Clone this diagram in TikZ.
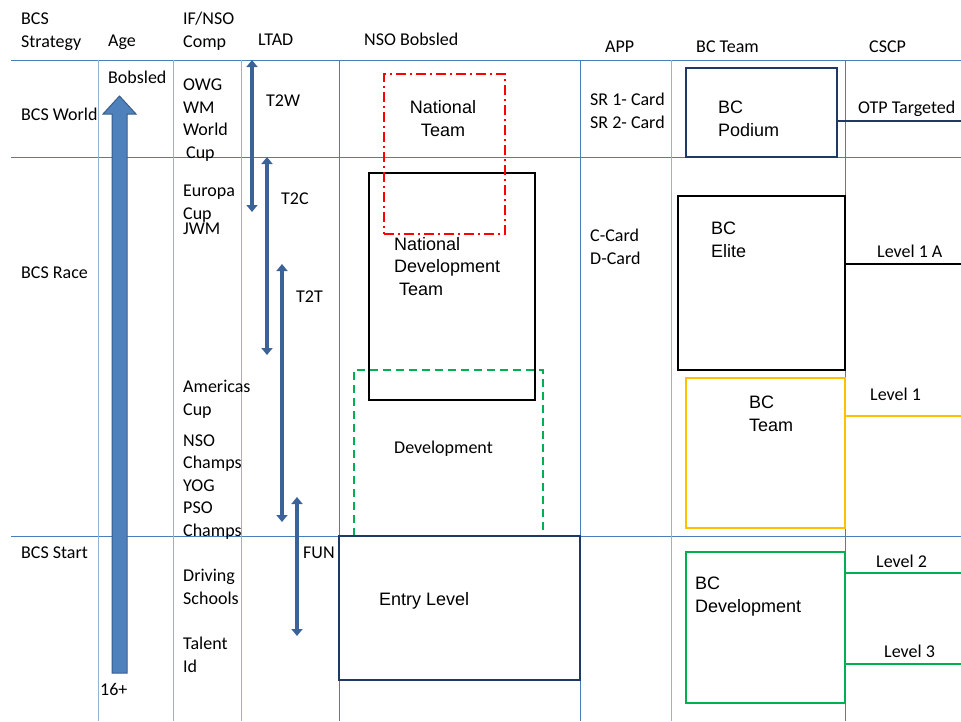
\documentclass[tikz,border=0pt]{standalone}
\usepackage{fontspec}
\setmainfont{Carlito}
\newfontfamily\arialfont{Liberation Sans}
\usetikzlibrary{arrows.meta}

\definecolor{gridblue}{HTML}{4A7EBB}
\definecolor{gridpale}{HTML}{95B3D7}
\definecolor{ageblue}{HTML}{4F81BD}
\definecolor{agerim}{HTML}{385D8A}
\definecolor{ltadblue}{HTML}{3C6398}
\definecolor{navy}{HTML}{1F3864}
\definecolor{natred}{HTML}{FF0000}
\definecolor{devgreen}{HTML}{00B050}
\definecolor{teamgold}{HTML}{FFC000}

\begin{document}
\begin{tikzpicture}[x=1pt, y=-1pt,
    txt/.style={font=\fontsize{18}{22.5}\selectfont, anchor=base west, inner sep=0pt, align=left},
    boxtxt/.style={txt, font=\arialfont\fontsize{18}{22.5}\selectfont},
    grid/.style={gridblue, line width=0.8pt},
    pale/.style={gridpale, line width=0.8pt},
    ltad/.style={ltadblue, line width=4.5pt,
        {Triangle[width=11pt,length=7pt]}-{Triangle[width=11pt,length=7pt]}},
    lvlbox/.style={draw, line width=2pt, inner sep=0pt},
    feed/.style={line width=2pt}
]
\useasboundingbox (0,0) rectangle (961,721);

% Table grid
\foreach \y in {60,157,536}
    \draw[grid] (11,\y) -- (961,\y);
\foreach \x in {339,580,845}
    \draw[grid] (\x,60) -- (\x,721);
\foreach \x in {98,173,241,671}
    \draw[pale] (\x,60) -- (\x,721);

% Column headers (multi-line texts sit on their last baseline)
\node[txt] (hstrat) at (21,47)  {BCS\\Strategy};
\node[txt] (hage)   at (108,46) {Age};
\node[txt] (hcomp)  at (183,47) {IF/NSO\\Comp};
\node[txt] (hltad)  at (258,45) {LTAD};
\node[txt] (hnso)   at (364,45) {NSO Bobsled};
\node[txt] (happ)   at (605,52) {APP};
\node[txt] (hbc)    at (696,52) {BC Team};
\node[txt] (hcscp)  at (869,52) {CSCP};

% Row labels
\node[txt] (rworld) at (21,120) {BCS World};
\node[txt] (rrace)  at (21,278) {BCS Race};
\node[txt] (rstart) at (21,558) {BCS Start};

% Age arrow
\filldraw[fill=ageblue, draw=agerim, line width=1pt]
    (112,673) -- (112,114) -- (103,114) -- (119.5,96) -- (136,114)
    -- (127,114) -- (127,673) -- cycle;
\node[txt] (bobsled) at (108,83)  {Bobsled};
\node[txt] (age16)   at (100,695) {16+};

% Competitions
\node[txt] (owg)      at (183,158) {OWG\\WM\\World\\\hspace{3pt}Cup};
\node[txt] (europa)   at (183,219) {Europa\\Cup};
\node[txt] (jwm)      at (183,234) {JWM};
\node[txt] (americas) at (183,415) {Americas\\Cup};
\node[txt] (champs)   at (183,536) {NSO\\Champs\\YOG\\PSO\\Champs};
\node[txt] (driving)  at (183,604) {Driving\\Schools};
\node[txt] (talent)   at (183,672) {Talent\\Id};

% LTAD stages
\draw[ltad] (252,60)  -- (252,212);
\draw[ltad] (267,157) -- (267,355);
\draw[ltad] (282,264) -- (282,522);
\draw[ltad] (297,497) -- (297,636);
\node[txt] (t2w) at (266,106) {T2W};
\node[txt] (t2c) at (281,204) {T2C};
\node[txt] (t2t) at (296,302) {T2T};
\node[txt] (fun) at (303,558) {FUN};

% NSO Bobsled
\node[lvlbox, black, minimum width=166, minimum height=227] (natdev) at (452,286.5) {};
\node[lvlbox, natred, dash pattern=on 10pt off 4pt on 2pt off 4pt,
      minimum width=121, minimum height=160] (natteam) at (444.5,154) {};
\node[lvlbox, devgreen, dash pattern=on 8pt off 5pt,
      minimum width=189, minimum height=166] (devbox) at (448.5,453) {};
\node[lvlbox, navy, minimum width=241, minimum height=144] (entry) at (459.5,608) {};
\node[boxtxt, align=center, anchor=base] (natteamtxt) at (443,136) {National\\Team};
\node[boxtxt] (natdevtxt) at (394,295) {National\\Development\\\hspace{5pt}Team};
\node[txt] (devtxt) at (394,453) {Development};
\node[boxtxt] (entrytxt) at (379,605) {Entry Level};

% APP cards
\node[txt] (srcard) at (590,128) {SR 1- Card\\SR 2- Card};
\node[txt] (cdcard) at (590,264) {C-Card\\D-Card};

% BC Team levels
\node[lvlbox, navy, minimum width=151, minimum height=89] (podium) at (761.5,112.5) {};
\node[lvlbox, black, minimum width=167, minimum height=174] (elite) at (761.5,283) {};
\node[lvlbox, teamgold, line width=2.5pt, minimum width=159, minimum height=150] (bcteam) at (765.5,453) {};
\node[lvlbox, devgreen, line width=2.5pt, minimum width=159, minimum height=151] (bcdev) at (765.5,627.5) {};
\node[boxtxt] (podiumtxt) at (718,136) {BC\\Podium};
\node[boxtxt] (elitetxt)  at (711,257) {BC\\Elite};
\node[boxtxt] (bcteamtxt) at (749,431) {BC\\Team};
\node[boxtxt] (bcdevtxt)  at (695,612) {BC\\Development};

% CSCP links
\coordinate (otp) at (961,121);
\coordinate (lvlonea) at (961,264);
\coordinate (lvlone) at (961,416);
\coordinate (lvltwo) at (961,573);
\coordinate (lvlthree) at (961,664);
\draw[navy, feed] (podium.east |- otp) -- (otp);
\draw[black, feed] (elite.east |- lvlonea) -- (lvlonea);
\draw[teamgold, feed, line width=2.5pt] (bcteam.east |- lvlone) -- (lvlone);
\draw[devgreen, feed, line width=2.5pt] (bcdev.east |- lvltwo) -- (lvltwo);
\draw[devgreen, feed, line width=2.5pt] (bcdev.east |- lvlthree) -- (lvlthree);
\node[txt] (otptxt)    at (858,113) {OTP Targeted};
\node[txt] (lvlonea_t) at (877,257) {Level 1 A};
\node[txt] (lvlone_t)  at (870,400) {Level 1};
\node[txt] (lvltwo_t)  at (876,567) {Level 2};
\node[txt] (lvlthree_t) at (884,657) {Level 3};
\end{tikzpicture}
\end{document}
